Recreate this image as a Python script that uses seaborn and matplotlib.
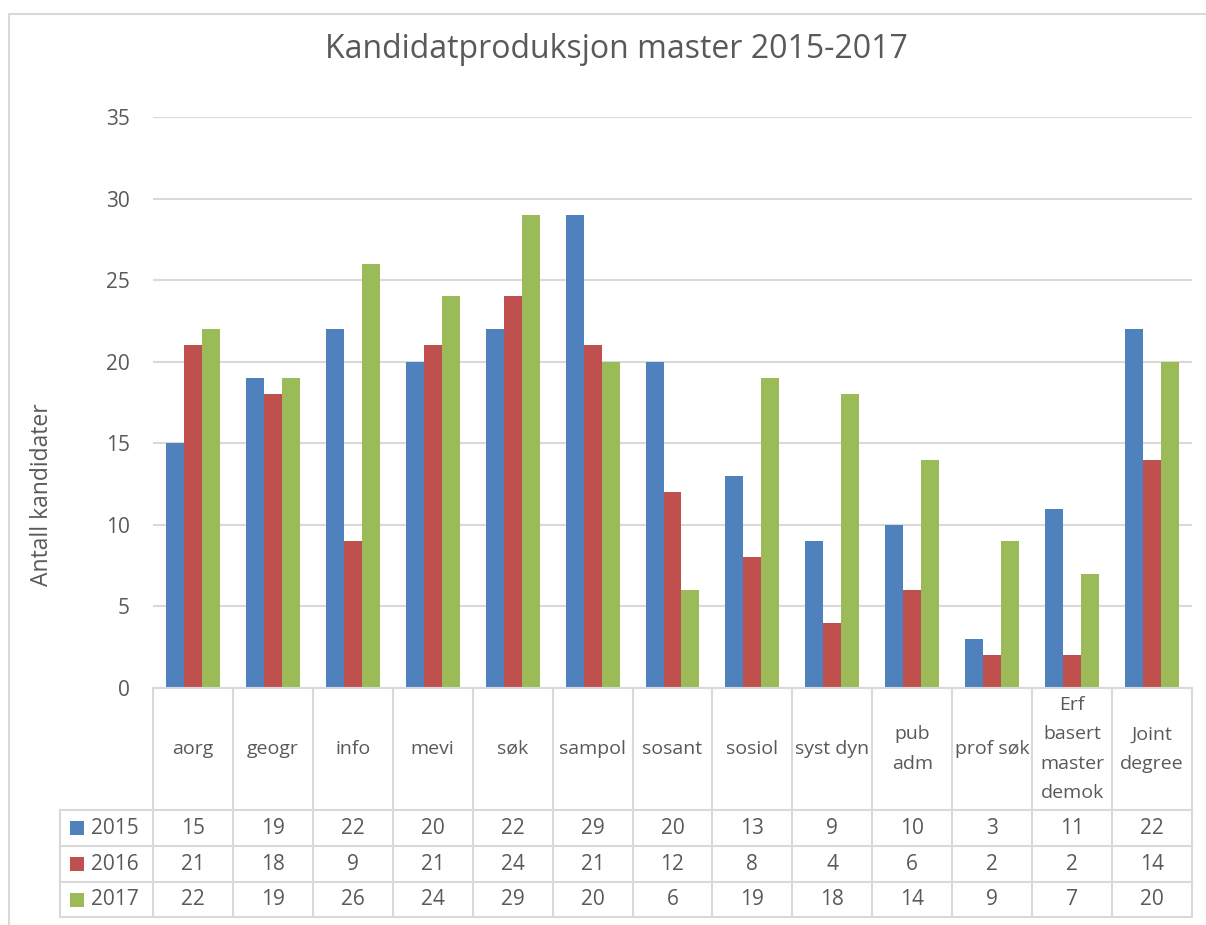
import pandas as pd
import numpy as np
import matplotlib
matplotlib.use('Agg')
import matplotlib.pyplot as plt
import seaborn as sns

# data
categories = ['aorg', 'geogr', 'info', 'mevi', 'søk', 'sampol', 'sosant',
              'sosiol', 'syst dyn', 'pub\nadm', 'prof søk',
              'Erf\nbasert\nmaster\ndemok', 'Joint\ndegree']
years = ['2015', '2016', '2017']
v2015 = [15, 19, 22, 20, 22, 29, 20, 13, 9, 10, 3, 11, 22]
v2016 = [21, 18, 9, 21, 24, 21, 12, 8, 4, 6, 2, 2, 14]
v2017 = [22, 19, 26, 24, 29, 20, 6, 19, 18, 14, 9, 7, 20]
colors = ['#4F81BD', '#C0504D', '#9BBB59']

sns.set_style('white')
plt.rcParams['font.family'] = ['Open Sans', 'DejaVu Sans']
txt = '#595959'
grid = '#D9D9D9'
fs = 15

df = pd.DataFrame({'kategori': categories * 3,
                   'aar': np.repeat(years, len(categories)),
                   'antall': v2015 + v2016 + v2017})

W, H = 1206, 925
fig = plt.figure(figsize=(W / 100, H / 100), dpi=100)

# axes in pixel layout
x0, x1, ytop, ybase = 153, 1192, 117, 688
ax = fig.add_axes([x0 / W, 1 - ybase / H, (x1 - x0) / W, (ybase - ytop) / H])
sns.barplot(data=df, x='kategori', y='antall', hue='aar', palette=colors,
            width=0.675, saturation=1, linewidth=0, ax=ax, legend=False)
ax.set_ylim(0, 35)
ax.set_xlim(-0.5, len(categories) - 0.5)
ax.set_yticks(range(0, 36, 5))
ax.tick_params(axis='y', length=0, labelsize=fs, labelcolor=txt, pad=16.5)
ax.set_xticks([])
ax.set_xlabel('')
ax.set_ylabel('')
ax.yaxis.grid(True, color=grid, linewidth=1.5)
ax.set_axisbelow(True)
for s in ['top', 'right', 'left']:
    ax.spines[s].set_visible(False)
ax.spines['bottom'].set_color(grid)
ax.spines['bottom'].set_linewidth(1.5)

# data table under the chart
tr = ax.get_xaxis_transform()
def ya(py):
    return (ybase - py) / (ybase - ytop)

n = len(categories)
px_per_cat = (x1 - x0) / n
xleft = -0.5 - (x0 - 60) / px_per_cat
rows = [810, 846, 882, 917]
lkw = dict(color=grid, linewidth=1.5, transform=tr, clip_on=False)
for b in np.arange(-0.5, n, 1.0):
    ax.plot([b, b], [ya(ybase), ya(rows[-1])], **lkw)
ax.plot([xleft, xleft], [ya(rows[0]), ya(rows[-1])], **lkw)
for r in rows:
    ax.plot([xleft, n - 0.5], [ya(r), ya(r)], **lkw)

for i, c in enumerate(categories):
    ax.text(i, ya(749), c, ha='center', va='center',
            fontsize=14, color=txt, transform=tr, linespacing=1.8)

for j, (yr, vals) in enumerate(zip(years, [v2015, v2016, v2017])):
    ym = (rows[j] + rows[j + 1]) / 2
    yc = ya(ym)
    for i, v in enumerate(vals):
        ax.text(i, yc, str(v), ha='center', va='center', fontsize=fs,
                color=txt, transform=tr)
    fig.add_artist(plt.Rectangle((70 / W, 1 - (ym + 7) / H), 14 / W, 14 / H,
                                 facecolor=colors[j], edgecolor='none',
                                 transform=fig.transFigure))
    fig.text(91 / W, 1 - ym / H, yr, color=txt, fontsize=fs,
             ha='left', va='center')

fig.text(616 / W, 1 - 50 / H, 'Kandidatproduksjon master 2015-2017',
         ha='center', va='center', fontsize=23, color=txt)
fig.text(42 / W, 1 - 495 / H, 'Antall kandidater', rotation=90,
         ha='center', va='center', fontsize=16.5, color=txt)

# chart area border (top and left visible)
fig.add_artist(plt.Line2D([9 / W, 9 / W], [0, 1 - 14 / H], color=grid,
                          linewidth=1.5, transform=fig.transFigure))
fig.add_artist(plt.Line2D([9 / W, 1], [1 - 14 / H, 1 - 14 / H], color=grid,
                          linewidth=1.5, transform=fig.transFigure))

fig.savefig('out.png', dpi=100)
